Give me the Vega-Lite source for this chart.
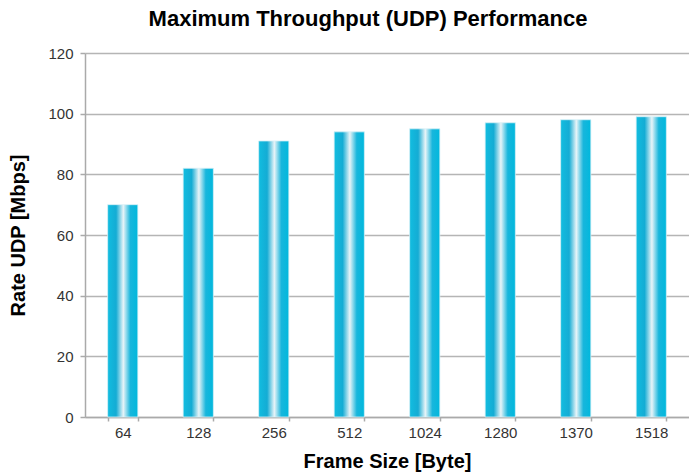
{
  "$schema": "https://vega.github.io/schema/vega-lite/v6.json",
  "width": 604,
  "height": 364,
  "autosize": {"type": "none"},
  "padding": {"left": 85, "top": 53, "right": 0, "bottom": 57},
  "background": "white",
  "title": {
    "text": "Maximum Throughput (UDP) Performance",
    "font": "Liberation Sans",
    "fontSize": 22,
    "fontWeight": "bold",
    "color": "#000000",
    "anchor": "middle",
    "dx": -19,
    "offset": 15
  },
  "config": {
    "view": {"stroke": null},
    "font": "Liberation Sans"
  },
  "data": {
    "values": [
      {"frame": "64", "rate": 70},
      {"frame": "128", "rate": 82},
      {"frame": "256", "rate": 91},
      {"frame": "512", "rate": 94},
      {"frame": "1024", "rate": 95},
      {"frame": "1280", "rate": 97},
      {"frame": "1370", "rate": 98},
      {"frame": "1518", "rate": 99}
    ]
  },
  "mark": {
    "type": "bar",
    "stroke": "#d8f0f6",
    "strokeWidth": 0.8,
    "color": {
      "gradient": "linear",
      "x1": 0, "y1": 0, "x2": 1, "y2": 0,
      "stops": [
        {"offset": 0, "color": "#12bde0"},
        {"offset": 0.28, "color": "#14acd4"},
        {"offset": 0.52, "color": "#e8f4f8"},
        {"offset": 0.75, "color": "#18b6dc"},
        {"offset": 1, "color": "#00b8dd"}
      ]
    }
  },
  "encoding": {
    "x": {
      "field": "frame",
      "type": "nominal",
      "sort": null,
      "scale": {"paddingInner": 0.6, "paddingOuter": 0.3},
      "axis": {
        "title": "Frame Size [Byte]",
        "titleFont": "Liberation Sans",
        "titleFontSize": 20,
        "titleFontWeight": "bold",
        "titleColor": "#000000",
        "titlePadding": 11,
        "labelAngle": 0,
        "labelFontSize": 15,
        "labelColor": "#333333",
        "labelPadding": 4,
        "domainColor": "#aaaaaa",
        "domainWidth": 1.5,
        "tickColor": "#aaaaaa",
        "tickSize": 4,
        "tickWidth": 1.5,
        "tickBand": "extent",
        "grid": false
      }
    },
    "y": {
      "field": "rate",
      "type": "quantitative",
      "scale": {"domain": [0, 120]},
      "axis": {
        "title": "Rate UDP [Mbps]",
        "titleFont": "Liberation Sans",
        "titleFontSize": 20,
        "titleFontWeight": "bold",
        "titleColor": "#000000",
        "titlePadding": 19,
        "values": [0, 20, 40, 60, 80, 100, 120],
        "labelFontSize": 15,
        "labelColor": "#333333",
        "labelPadding": 7,
        "domainColor": "#aaaaaa",
        "domainWidth": 1.5,
        "tickColor": "#aaaaaa",
        "tickSize": 5,
        "tickWidth": 1.5,
        "gridColor": "#b5b5b5",
        "gridWidth": 1.5
      }
    }
  }
}
